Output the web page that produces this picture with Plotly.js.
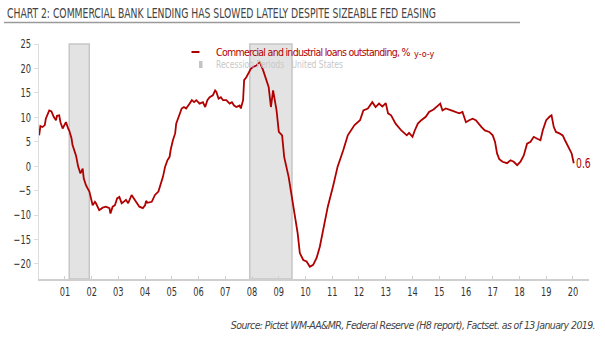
<!DOCTYPE html>
<html>
<head>
<meta charset="utf-8">
<script src="https://cdn.plot.ly/plotly-3.0.1.min.js"></script>
<style>html,body{margin:0;padding:0;background:#fff;}#chart{width:605px;height:341px;}#chart text{font-stretch:condensed;}</style>
</head>
<body>
<div id="chart"></div>
<script>
// ---- data ----
const dates = [
"2000-01-15","2000-02-01","2000-03-01","2000-04-01","2000-04-15","2000-06-01","2000-07-01","2000-08-01","2000-09-01","2000-09-15",
"2000-10-15","2000-11-01","2000-12-01","2001-01-01","2001-01-15","2001-02-15","2001-03-01","2001-04-01","2001-04-15","2001-06-01",
"2001-07-01","2001-08-01","2001-09-01","2001-09-15","2001-10-15","2001-12-01","2002-01-01","2002-01-15","2002-02-15","2002-03-01",
"2002-04-15","2002-06-01","2002-07-15","2002-09-01","2002-09-15","2002-10-15","2002-11-15","2002-12-15","2003-01-15","2003-02-15",
"2003-03-15","2003-04-15","2003-05-15","2003-07-01","2003-08-01","2003-09-01","2003-10-15","2003-12-01","2004-01-01","2004-01-15",
"2004-02-01","2004-04-01","2004-05-15","2004-07-01","2004-09-01","2004-10-01","2004-11-01","2004-12-01","2004-12-15","2005-01-15",
"2005-02-15","2005-03-01","2005-04-15","2005-05-15","2005-06-15","2005-07-15","2005-09-01","2005-10-01","2005-11-01","2005-12-01",
"2006-01-15","2006-03-01","2006-04-01","2006-05-01","2006-06-01","2006-07-15","2006-08-15","2006-09-01","2006-10-01","2006-11-01",
"2006-12-01","2007-01-15","2007-03-01","2007-04-01","2007-05-01","2007-06-01","2007-07-15","2007-08-01","2007-09-01","2007-09-15",
"2007-10-15","2007-11-15","2007-12-15","2008-01-15","2008-03-01","2008-04-01","2008-04-15","2008-06-01","2008-07-15","2008-08-15",
"2008-09-15","2008-10-15","2008-12-01","2009-01-01","2009-02-15","2009-03-15","2009-05-15","2009-06-15","2009-08-01","2009-09-15",
"2009-10-15","2009-12-01","2010-01-15","2010-03-01","2010-04-15","2010-06-01","2010-07-15","2010-09-01","2010-11-01","2011-01-15",
"2011-03-15","2011-06-01","2011-08-01","2011-11-01","2012-01-15","2012-03-01","2012-05-01","2012-07-01","2012-08-15","2012-10-01",
"2012-11-15","2013-01-01","2013-02-01","2013-03-15","2013-05-15","2013-08-01","2013-09-15","2013-10-15","2013-11-15","2014-01-01",
"2014-02-01","2014-03-15","2014-05-01","2014-07-01","2014-08-15","2014-10-15","2014-12-15","2015-01-15","2015-02-15","2015-04-01",
"2015-06-15","2015-08-01","2015-10-01","2015-11-15","2016-01-01","2016-02-15","2016-04-01","2016-05-15","2016-07-01","2016-08-01",
"2016-09-15","2016-11-15","2017-01-01","2017-02-01","2017-03-01","2017-04-01","2017-05-15","2017-07-15","2017-09-01","2017-10-15",
"2017-12-01","2018-01-15","2018-03-01","2018-04-15","2018-06-01","2018-07-15","2018-09-01","2018-10-15","2018-11-15","2019-01-01",
"2019-02-15","2019-03-15","2019-04-15","2019-05-15","2019-07-01","2019-08-15","2019-09-15","2019-11-01","2019-12-15","2020-01-13"
];
const loansYoY = [
6.3,8.2,8.0,8.4,9.7,11.4,11.2,10.1,9.4,10.3,
10.4,9.0,7.7,8.7,9.0,7.7,7.3,5.7,4.3,2.2,
-0.1,-1.5,-0.5,-2.5,-3.9,-5.2,-7.3,-8.0,-7.3,-7.6,
-9.0,-8.5,-8.3,-8.6,-9.7,-8.3,-8.0,-6.6,-6.3,-7.6,
-7.3,-6.9,-7.6,-5.9,-6.6,-7.3,-8.3,-8.6,-8.0,-7.1,
-7.5,-7.3,-5.9,-5.2,-2.2,-0.1,1.2,1.9,3.3,5.3,
6.7,8.7,10.4,11.8,12.1,11.8,12.8,13.5,13.1,13.5,
12.8,13.1,12.1,13.5,14.1,14.5,15.5,15.2,13.8,14.1,
13.5,13.5,12.8,13.1,12.4,12.1,12.4,11.8,13.5,17.6,
18.2,19.2,19.9,20.3,20.6,21.0,21.3,19.6,17.6,16.2,
12.1,15.5,11.4,7.0,6.3,1.9,-2.2,-4.9,-9.7,-13.7,
-17.8,-19.2,-19.5,-20.6,-20.2,-18.8,-16.5,-13.1,-8.3,-3.9,
-0.1,3.3,6.3,8.4,9.4,11.4,11.8,13.1,12.1,12.8,
12.2,12.9,10.8,10.4,8.7,7.3,6.7,6.3,6.8,6.0,
7.3,8.7,9.4,10.1,11.1,11.6,12.4,12.8,11.4,11.8,
11.4,11.1,10.8,11.1,9.0,9.4,9.7,9.4,8.4,8.0,
7.3,7.0,6.3,5.0,2.6,1.4,0.9,0.6,1.2,0.9,
0.2,0.9,2.2,4.6,5.0,6.0,5.6,5.3,7.3,9.4,
10.1,10.4,8.0,7.0,6.7,6.3,5.3,3.9,2.6,0.6
];
const recessionStarts = ["2001-03-01","2007-12-01"];
const recessionEnds   = ["2001-11-30","2009-06-30"];
const seriesName = "Commercial and industrial loans outstanding, %";
const seriesUnitSuffix = "y-o-y";
const recessionName = "Recession Periods   United States";
const titleText = "CHART 2: COMMERCIAL BANK LENDING HAS SLOWED LATELY DESPITE SIZEABLE FED EASING";
const sourceText = "Source: Pictet WM-AA&MR, Federal Reserve (H8 report), Factset. as of 13 January 2019.";
const yTickVals = [-20,-15,-10,-5,0,5,10,15,20,25];

// ---- layout helpers ----
const FONT = "'Liberation Sans Narrow', 'DejaVu Sans Condensed', 'DejaVu Sans', sans-serif";
const W = 605, H = 341;
const M = {l:39, r:16, t:44, b:62};
const pw = W - M.l - M.r, ph = H - M.t - M.b;
const px = x => (x - M.l) / pw;          // container px -> paper x
const py = y => (H - M.b - y) / ph;      // container px -> paper y
const RED = '#b00000';

const shapes = recessionStarts.map((s, i) => ({
  type:'rect', xref:'x', yref:'paper', x0:s, x1:recessionEnds[i], y0:0, y1:1,
  fillcolor:'#e3e3e3', line:{color:'#c6c6c6', width:1.5}, layer:'below'
}));
shapes.push({type:'line', xref:'paper', yref:'paper', x0:px(4), x1:px(520), y0:py(22.5), y1:py(22.5),
  line:{color:'#9a9a9a', width:1.5}});
shapes.push({type:'line', xref:'paper', yref:'paper', x0:px(191.5), x1:px(199.5), y0:py(52), y1:py(52),
  line:{color:RED, width:2}});
shapes.push({type:'rect', xref:'paper', yref:'paper', x0:px(199), x1:px(202.5), y0:py(61), y1:py(68),
  fillcolor:'#c4c4c4', line:{width:0}});

const last = dates.length - 1;
const annotations = [
  {xref:'paper', yref:'paper', x:px(214), y:py(52), xanchor:'left', yanchor:'middle', align:'left', showarrow:false,
   text: seriesName, font:{family:FONT, size:10.5, color:RED}},
  {xref:'paper', yref:'paper', x:px(411.5), y:py(53.5), xanchor:'left', yanchor:'middle', align:'left', showarrow:false,
   text: seriesUnitSuffix, font:{family:FONT, size:9, color:RED}},
  {xref:'paper', yref:'paper', x:px(214), y:py(64), xanchor:'left', yanchor:'middle', align:'left', showarrow:false,
   text: recessionName, font:{family:FONT, size:11, color:'#c8c8c8'}},
  {xref:'x', yref:'y', x:dates[last], y:loansYoY[last], xanchor:'left', yanchor:'middle', align:'left', xshift:0, showarrow:false,
   text: String(loansYoY[last]), font:{family:FONT, size:14, color:RED}},
  {xref:'paper', yref:'paper', x:px(597), y:py(325), xanchor:'right', yanchor:'middle', align:'right', showarrow:false,
   text: '<i>' + sourceText + '</i>', font:{family:FONT, size:10.5, color:'#444'}}
];

const trace = {
  x: dates, y: loansYoY, type:'scatter', mode:'lines', name: seriesName,
  line:{color:RED, width:1.8}, hoverinfo:'x+y'
};

const layout = {
  width:W, height:H, margin:M, paper_bgcolor:'#fff', plot_bgcolor:'#fff', showlegend:false,
  title:{text:titleText, x:7/W, xanchor:'left', y:1-13/H, yanchor:'middle', xref:'container', yref:'container',
         font:{family:FONT, size:14, color:'#444'}},
  xaxis:{type:'date', range:['2000-01-13','2020-08-08'], tick0:'2001-01-01', dtick:'M12', tickformat:'%y',
         showgrid:false, zeroline:false, showline:true, linecolor:'#cfcfcf', linewidth:1.5,
         ticks:'inside', ticklen:3, tickcolor:'#cfcfcf',
         tickfont:{family:FONT, size:12.5, color:'#333'}},
  yaxis:{range:[-23.1, 25], tickvals:yTickVals, showgrid:false, zeroline:false, showline:true,
         linecolor:'#dcdcdc', linewidth:1.5, ticks:'outside', ticklen:4, tickcolor:'#dcdcdc',
         tickfont:{family:FONT, size:12.5, color:'#333'}},
  shapes: shapes, annotations: annotations
};

// horizontally condense a text element to a target width (keeps it as real text)
function fitWidth(el, target) {
  el.setAttribute('textLength', target.toFixed(1));
  el.setAttribute('lengthAdjust', 'spacingAndGlyphs');
}
// tighten letter spacing so that a text reaches a target width
function tighten(el, target) {
  const L = el.getComputedTextLength();
  const n = el.textContent.length;
  if (L > target && n > 1) el.style.letterSpacing = ((target - L) / n).toFixed(2) + 'px';
}

Plotly.newPlot('chart', [trace], layout, {displayModeBar:false, staticPlot:true}).then(gd => {
  const titleEl = gd.querySelector('.gtitle');
  const titleTarget = 429;
  const f = Math.min(1, titleTarget / titleEl.getComputedTextLength());
  fitWidth(titleEl, titleTarget);
  const ann = gd.querySelectorAll('.annotation-text');
  tighten(ann[0], 194);
  fitWidth(ann[2], Math.min(ann[2].getComputedTextLength(), 127));
  fitWidth(ann[3], ann[3].getComputedTextLength() * f);
  tighten(ann[4], 364);
  gd.querySelectorAll('.xtick text, .ytick text').forEach(el => fitWidth(el, el.getComputedTextLength() * f));
});
</script>
</body>
</html>
